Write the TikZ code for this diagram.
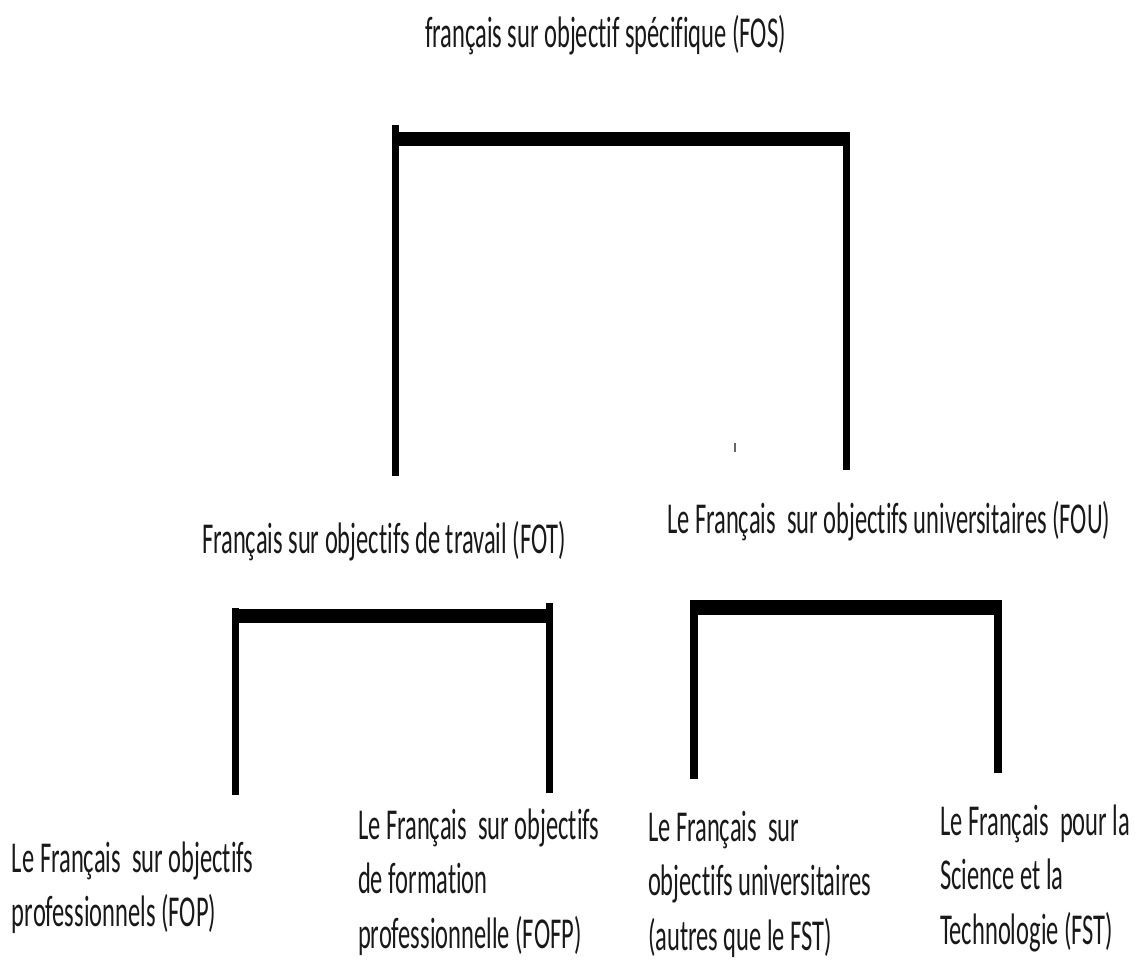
\documentclass[tikz,border=0pt]{standalone}
\usepackage{fontspec}
\setmainfont{Carlito}[Ligatures=NoCommon]
\usepackage{graphicx}
\newcommand{\vs}[1]{\scalebox{1}[1.8]{#1}}
\newcommand{\ml}[1]{\scalebox{1}[1.8]{\begin{tabular}[t]{@{}l@{}}#1\end{tabular}}}
\begin{document}
\begin{tikzpicture}[x=1pt,y=-1pt,
  lbl/.style={anchor=base west, inner sep=0pt, outer sep=0pt, font=\fontsize{24.5}{30.5}\selectfont, text=black!90},
  bar/.style={line width=14pt},
  stem/.style={line width=7.5pt}]
\useasboundingbox (0,0) rectangle (1138,962);
% labels
\node[lbl] (fos) at (425,47) {\vs{français sur objectif spécifique (FOS)}};
\node[lbl] (fot) at (202,553) {\vs{Français sur objectifs de travail (FOT)}};
\node[lbl] (fou) at (667,533) {\vs{Le Français\ \ sur objectifs universitaires (FOU)}};
\node[lbl] (fop) at (12,872) {\ml{Le Français\ \ sur objectifs\\professionnels (FOP)}};
\node[lbl] (fofp) at (358,839) {\ml{Le Français\ \ sur objectifs\\de formation\\professionnelle (FOFP)}};
\node[lbl] (foua) at (648,841) {\ml{Le Français\ \ sur\\objectifs universitaires\\(autres que le FST)}};
\node[lbl] (fst) at (940,835) {\ml{Le Français\ \ pour la\\Science et la\\Technologie (FST)}};
% bracket coordinates
\coordinate (t1a) at (395.5,125);
\coordinate (t1b) at (395.5,476);
\coordinate (t2a) at (846.5,133);
\coordinate (t2b) at (846.5,470);
\coordinate (tba) at (392,139);
\coordinate (tbb) at (850,139);
\coordinate (l1a) at (235.5,608);
\coordinate (l1b) at (235.5,795);
\coordinate (l2a) at (549.5,603);
\coordinate (l2b) at (549.5,793);
\coordinate (lba) at (232,615.5);
\coordinate (lbb) at (553,615.5);
\coordinate (r1a) at (694,600);
\coordinate (r1b) at (694,779);
\coordinate (r2a) at (998,600);
\coordinate (r2b) at (998,773);
\coordinate (rba) at (690.5,607);
\coordinate (rbb) at (1001.5,607);
% brackets
\draw[bar] (tba) -- (tbb);
\draw[stem] (t1a) -- (t1b);
\draw[stem] (t2a) -- (t2b);
\draw[bar] (lba) -- (lbb);
\draw[stem] (l1a) -- (l1b);
\draw[stem] (l2a) -- (l2b);
\draw[bar,line width=15pt] (rba) -- (rbb);
\draw[stem] (r1a) -- (r1b);
\draw[stem] (r2a) -- (r2b);
% stray dot
\fill[black!60] (733.5,443) rectangle (736,452);
\end{tikzpicture}
\end{document}
